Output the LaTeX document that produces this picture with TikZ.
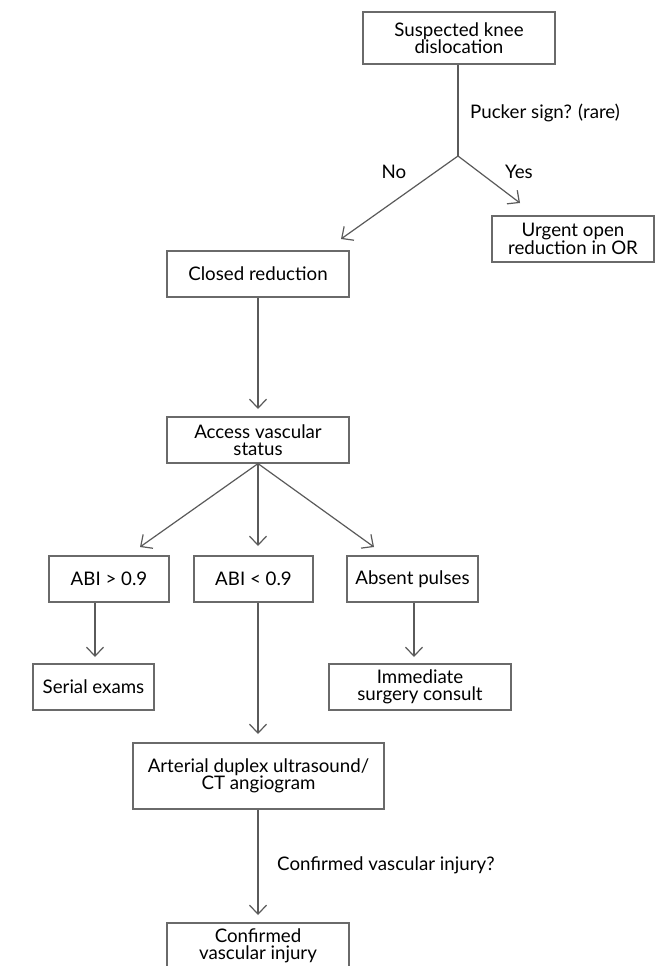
\documentclass[tikz,border=0pt]{standalone}
\usepackage{fontspec}
\setmainfont{Lato}
\usetikzlibrary{arrows.meta,calc}
\definecolor{boxline}{HTML}{6A6A6A}
\definecolor{conline}{HTML}{5A5A5A}
\begin{document}
\begin{tikzpicture}[x=1pt,y=-1pt,
  font=\fontsize{18.7pt}{17pt}\selectfont,
  box/.style={draw=boxline,line width=1.2pt,align=center,inner sep=0pt,minimum height=46pt},
  con/.style={draw=conline,line width=1.2pt},
  arr/.style={con,-{Straight Barb[length=9pt,width=17pt,line width=1.2pt]}},
  lab/.style={inner sep=0pt,text=black}]
\useasboundingbox (0,0) rectangle (656,966);
\fill[white] (0,0) rectangle (656,966);
% boxes
\node[box,minimum width=192pt,minimum height=52pt] (sus) at (459,38) {Suspected knee\\dislocation};
\node[box,minimum width=162pt] (urg) at (573,239) {Urgent open\\reduction in OR};
\node[box,minimum width=182pt] (closed) at (258,274) {Closed reduction};
\node[box,minimum width=182pt] (access) at (258,440) {Access vascular\\status};
\node[box,minimum width=120pt] (abiA) at (109,579) {ABI > 0.9};
\node[box,minimum width=119pt] (abiB) at (253.5,579) {ABI < 0.9};
\node[box,minimum width=131pt] (absent) at (412.5,579) {Absent pulses};
\node[box,minimum width=121pt] (serial) at (93.5,687) {Serial exams};
\node[box,minimum width=182pt] (imm) at (420,687) {Immediate\\surgery consult};
\node[box,line width=1.8pt,minimum width=251pt,minimum height=66pt] (art) at (258.5,776) {Arterial duplex ultrasound/\\CT angiogram};
\node[box,minimum width=182pt] (conf) at (258,946) {Confirmed\\vascular injury};
% coordinates
\coordinate (b1) at (458,156);
\coordinate (tNo) at (341,239);
\coordinate (tYes) at (520,203);
\coordinate (tClosed) at (258,409);
\coordinate (tA) at (140,547);
\coordinate (tB) at (258,546);
\coordinate (tC) at (374,547);
\coordinate (tSerial) at (95,657);
\coordinate (tArt) at (258,734);
\coordinate (tImm) at (414,657);
\coordinate (tConf) at (258,915);
% connectors
\draw[con] (sus.south -| b1) -- (b1);
\draw[arr] (b1) -- (tNo);
\draw[arr] (b1) -- (tYes);
\draw[arr] (closed.south) -- (tClosed);
\draw[arr] (access.south) -- (tA);
\draw[arr] (access.south) -- (tB);
\draw[arr] (access.south) -- (tC);
\draw[arr] (abiA.south -| tSerial) -- (tSerial);
\draw[arr] (abiB.south -| tArt) -- (tArt);
\draw[arr] (absent.south -| tImm) -- (tImm);
\draw[arr] (art.south -| tConf) -- (tConf);
% labels
\node[lab,anchor=west] (lPucker) at (470,113) {Pucker sign? (rare)};
\node[lab] (lNo) at (394,172) {No};
\node[lab] (lYes) at (519,172) {Yes};
\node[lab,anchor=west] (lConf) at (277,865) {Confirmed vascular injury?};
\end{tikzpicture}
\end{document}
